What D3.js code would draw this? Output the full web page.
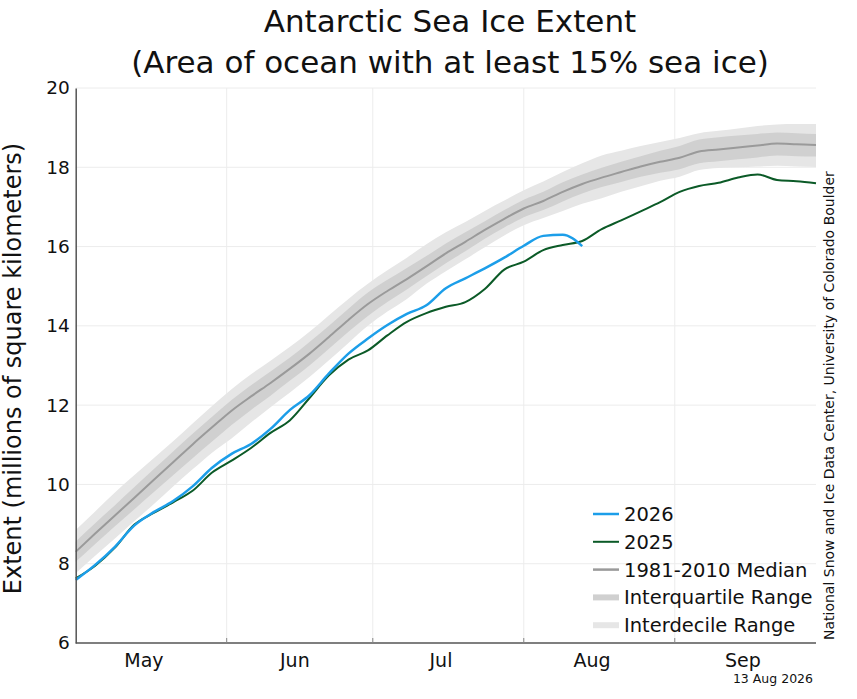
<!DOCTYPE html>
<html lang="en">
<head>
<meta charset="UTF-8">
<title>Antarctic Sea Ice Extent</title>
<script src="https://cdn.jsdelivr.net/npm/d3@7.8.5/dist/d3.min.js"></script>
<style>
    * { margin: 0; padding: 0; box-sizing: border-box; }
    body { background: #fff; font-family: 'DejaVu Sans', sans-serif; }
    svg text { font-family: 'DejaVu Sans', sans-serif; fill: #111; }
    .grid line { stroke: #ececec; stroke-width: 1; }
</style>
</head>
<body>
<svg id="chart" width="857" height="699"></svg>
<script>
    // days counted from 1 May
    const days = [0, 4, 8, 12, 16, 20, 24, 28, 32, 36, 40, 44, 48, 52, 56, 60, 64, 68, 72, 76,
                  80, 84, 88, 92, 96, 100, 104, 108, 112, 116, 120, 124, 128, 132, 136, 140, 144, 148, 152];

    // 1981-2010 median and ranges (millions of km²)
    const median = [8.30, 8.76, 9.21, 9.66, 10.11, 10.56, 11.01, 11.44, 11.86, 12.22, 12.56, 12.92, 13.30, 13.72,
                    14.15, 14.55, 14.88, 15.18, 15.50, 15.83, 16.12, 16.42, 16.70, 16.96, 17.15, 17.38, 17.58,
                    17.74, 17.88, 18.02, 18.14, 18.24, 18.40, 18.45, 18.50, 18.55, 18.60, 18.58, 18.56];
    const iqrLow = [8.05, 8.50, 8.94, 9.37, 9.80, 10.23, 10.66, 11.08, 11.50, 11.88, 12.24, 12.62, 13.00, 13.42,
                    13.85, 14.25, 14.60, 14.92, 15.25, 15.58, 15.88, 16.20, 16.48, 16.74, 16.92, 17.14, 17.34,
                    17.50, 17.63, 17.76, 17.86, 17.95, 18.10, 18.15, 18.20, 18.25, 18.30, 18.28, 18.27];
    const iqrHigh = [8.56, 9.02, 9.47, 9.93, 10.38, 10.83, 11.28, 11.71, 12.13, 12.50, 12.85, 13.20, 13.59, 14.00,
                     14.43, 14.84, 15.16, 15.46, 15.76, 16.08, 16.36, 16.64, 16.92, 17.18, 17.38, 17.62, 17.82,
                     17.99, 18.14, 18.28, 18.42, 18.54, 18.70, 18.76, 18.80, 18.84, 18.88, 18.86, 18.84];
    const idrLow = [7.76, 8.20, 8.63, 9.07, 9.50, 9.95, 10.38, 10.80, 11.16, 11.56, 11.95, 12.32, 12.71, 13.13,
                    13.57, 14.00, 14.36, 14.68, 15.06, 15.38, 15.68, 15.98, 16.28, 16.54, 16.72, 16.90, 17.08,
                    17.22, 17.38, 17.52, 17.66, 17.76, 17.93, 17.98, 18.00, 18.02, 18.04, 18.02, 18.01];
    const idrHigh = [8.85, 9.32, 9.79, 10.23, 10.66, 11.09, 11.54, 11.98, 12.40, 12.78, 13.12, 13.47, 13.85, 14.27,
                     14.68, 15.06, 15.40, 15.72, 16.06, 16.36, 16.62, 16.90, 17.16, 17.42, 17.64, 17.88, 18.10,
                     18.30, 18.42, 18.54, 18.64, 18.74, 18.86, 18.92, 18.98, 19.04, 19.08, 19.09, 19.09];

    const extent2025 = [7.63, 7.95, 8.40, 8.98, 9.28, 9.55, 9.84, 10.30, 10.60, 10.92, 11.30, 11.62, 12.18, 12.75,
                        13.15, 13.38, 13.76, 14.10, 14.32, 14.48, 14.60, 14.93, 15.42, 15.62, 15.91, 16.04, 16.14,
                        16.44, 16.66, 16.89, 17.12, 17.38, 17.53, 17.61, 17.74, 17.82, 17.68, 17.65, 17.60];

    const days2026 = [0, 4, 8, 12, 16, 20, 24, 28, 32, 36, 40, 44, 48, 52, 56, 60, 64, 68, 72, 76,
                      80, 84, 88, 92, 96, 100, 104];
    const extent2026 = [7.59, 7.97, 8.42, 8.96, 9.30, 9.58, 9.95, 10.42, 10.77, 11.02, 11.40, 11.88, 12.25, 12.80,
                        13.30, 13.68, 14.02, 14.30, 14.52, 14.95, 15.20, 15.45, 15.72, 16.02, 16.27, 16.30, 16.01];

    const monthStarts = [31, 61, 92, 123];
    const monthLabelDays = [14, 45, 75, 106, 137];
    const monthNames = ["May", "Jun", "Jul", "Aug", "Sep"];
    const yTicks = [6, 8, 10, 12, 14, 16, 18, 20];

    const plotLeft = 75.7, plotRight = 816, plotTop = 88, plotBottom = 643;
    const svg = d3.select('#chart');

    const x = d3.scaleLinear().domain([0, 152]).range([plotLeft, plotRight]);
    const y = d3.scaleLinear().domain([6, 20]).range([plotBottom, plotTop]);

    // grid
    const grid = svg.append('g').attr('class', 'grid');
    grid.selectAll('.h').data(yTicks.filter(v => v > 6)).enter().append('line')
        .attr('x1', plotLeft).attr('x2', plotRight)
        .attr('y1', d => y(d)).attr('y2', d => y(d));
    grid.selectAll('.v').data(monthStarts).enter().append('line')
        .attr('x1', d => x(d)).attr('x2', d => x(d))
        .attr('y1', plotTop).attr('y2', plotBottom);

    const rows = days.map((d, i) => ({
        day: d, med: median[i], q1: iqrLow[i], q3: iqrHigh[i], d1: idrLow[i], d9: idrHigh[i], y25: extent2025[i]
    }));

    const curve = d3.curveMonotoneX;

    // interdecile range
    svg.append('path').datum(rows)
        .attr('fill', '#e6e6e6')
        .attr('d', d3.area().curve(curve).x(d => x(d.day)).y0(d => y(d.d1)).y1(d => y(d.d9)));

    // interquartile range
    svg.append('path').datum(rows)
        .attr('fill', '#d0d0d0')
        .attr('d', d3.area().curve(curve).x(d => x(d.day)).y0(d => y(d.q1)).y1(d => y(d.q3)));

    // median
    svg.append('path').datum(rows)
        .attr('fill', 'none').attr('stroke', '#9a9a9a').attr('stroke-width', 2)
        .attr('d', d3.line().curve(curve).x(d => x(d.day)).y(d => y(d.med)));

    // 2025
    svg.append('path').datum(rows)
        .attr('fill', 'none').attr('stroke', '#0b5a27').attr('stroke-width', 2)
        .attr('d', d3.line().curve(curve).x(d => x(d.day)).y(d => y(d.y25)));

    // 2026
    const rows26 = days2026.map((d, i) => ({ day: d, v: extent2026[i] }));
    svg.append('path').datum(rows26)
        .attr('fill', 'none').attr('stroke', '#1c9ee9').attr('stroke-width', 2.5)
        .attr('d', d3.line().curve(curve).x(d => x(d.day)).y(d => y(d.v)));

    // axes
    const yAxis = d3.axisLeft(y).tickValues(yTicks).tickSize(0).tickPadding(6).tickFormat(d3.format('d'));
    const gy = svg.append('g').attr('transform', `translate(${plotLeft},0)`).call(yAxis);
    gy.select('.domain').attr('stroke', '#555').attr('stroke-width', 1.5);
    gy.selectAll('text').style('font-size', '18.5px').style('font-family', 'DejaVu Sans').attr('fill', '#111');

    const gx = svg.append('g').attr('transform', `translate(0,${plotBottom})`);
    gx.append('line').attr('x1', plotLeft).attr('x2', plotRight).attr('y1', 0).attr('y2', 0)
        .attr('stroke', '#555').attr('stroke-width', 1.5);
    gx.selectAll('.tick').data(monthStarts).enter().append('line')
        .attr('x1', d => x(d)).attr('x2', d => x(d)).attr('y1', 0).attr('y2', -5)
        .attr('stroke', '#888').attr('stroke-width', 1);
    gx.selectAll('.mlab').data(monthLabelDays).enter().append('text')
        .attr('x', d => x(d)).attr('y', 24)
        .attr('text-anchor', 'middle')
        .style('font-size', '19px')
        .text((d, i) => monthNames[i]);

    // titles
    svg.append('text').attr('x', 450).attr('y', 32).attr('text-anchor', 'middle')
        .style('font-size', '31px').text('Antarctic Sea Ice Extent');
    svg.append('text').attr('x', 450).attr('y', 73).attr('text-anchor', 'middle')
        .style('font-size', '31px').text('(Area of ocean with at least 15% sea ice)');

    svg.append('text')
        .attr('transform', `translate(21,${(plotTop + plotBottom) / 2 + 3}) rotate(-90)`)
        .attr('text-anchor', 'middle')
        .style('font-size', '24px')
        .text('Extent (millions of square kilometers)');

    svg.append('text')
        .attr('transform', `translate(834,640) rotate(-90)`)
        .attr('text-anchor', 'start')
        .style('font-size', '14px')
        .text('National Snow and Ice Data Center, University of Colorado Boulder');

    svg.append('text').attr('x', 813).attr('y', 683).attr('text-anchor', 'end')
        .style('font-size', '12.5px').text('13 Aug 2026');

    // legend
    const legendItems = [
        { label: '2026', color: '#1c9ee9', w: 2.5 },
        { label: '2025', color: '#0b5a27', w: 2 },
        { label: '1981-2010 Median', color: '#9a9a9a', w: 2.5 },
        { label: 'Interquartile Range', color: '#d0d0d0', w: 6 },
        { label: 'Interdecile Range', color: '#e6e6e6', w: 6 }
    ];
    const legend = svg.append('g').attr('transform', 'translate(593,514)');
    legendItems.forEach((item, i) => {
        const row = legend.append('g').attr('transform', `translate(0,${i * 27.8})`);
        row.append('line').attr('x1', 0).attr('x2', 26).attr('y1', 0).attr('y2', 0)
            .attr('stroke', item.color).attr('stroke-width', item.w);
        row.append('text').attr('x', 31).attr('y', 7)
            .style('font-size', '19.5px').text(item.label);
    });
</script>
</body>
</html>
